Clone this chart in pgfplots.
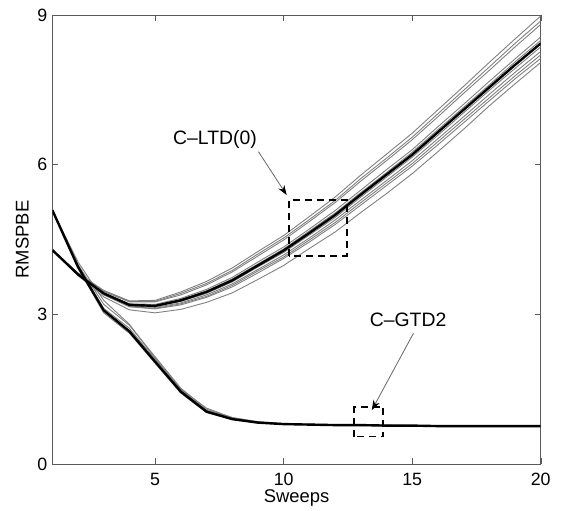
\documentclass[border=0pt]{standalone}
\usepackage{pgfplots}
\pgfplotsset{compat=1.18}
\usepackage{pgfplotstable}
\usepackage{fontspec}
\setmainfont{Liberation Sans}
\usetikzlibrary{arrows.meta}

% C-LTD(0): mean (m) and individual runs (a..j)
\pgfplotstableread{
x  m    a    b    c    d    e    f    g    h    i    j
1  4.29 4.29 4.29 4.29 4.29 4.29 4.29 4.29 4.29 4.29 4.29
2  3.80 3.83 3.82 3.82 3.81 3.80 3.80 3.79 3.79 3.79 3.78
3  3.42 3.48 3.47 3.46 3.43 3.43 3.41 3.40 3.40 3.39 3.35
4  3.19 3.27 3.26 3.25 3.21 3.20 3.18 3.17 3.16 3.15 3.09
5  3.17 3.28 3.26 3.25 3.20 3.18 3.16 3.14 3.12 3.11 3.03
6  3.28 3.45 3.42 3.39 3.32 3.30 3.26 3.23 3.21 3.19 3.10
7  3.45 3.66 3.62 3.59 3.50 3.47 3.42 3.39 3.36 3.34 3.24
8  3.68 3.93 3.88 3.85 3.74 3.71 3.65 3.61 3.58 3.55 3.43
9  3.98 4.26 4.21 4.17 4.05 4.01 3.95 3.90 3.87 3.83 3.70
10 4.28 4.58 4.53 4.49 4.35 4.31 4.24 4.19 4.15 4.12 3.98
11 4.63 4.96 4.90 4.86 4.71 4.67 4.59 4.53 4.49 4.45 4.32
12 4.99 5.35 5.28 5.24 5.08 5.03 4.94 4.89 4.84 4.80 4.65
13 5.40 5.79 5.72 5.67 5.49 5.44 5.35 5.29 5.24 5.19 5.04
14 5.80 6.21 6.13 6.08 5.90 5.84 5.75 5.68 5.63 5.58 5.42
15 6.20 6.63 6.55 6.50 6.30 6.25 6.15 6.08 6.02 5.97 5.82
16 6.65 7.10 7.02 6.96 6.76 6.70 6.59 6.52 6.46 6.40 6.26
17 7.10 7.57 7.49 7.43 7.21 7.15 7.04 6.96 6.90 6.84 6.71
18 7.55 8.05 7.96 7.89 7.67 7.60 7.49 7.41 7.34 7.28 7.18
19 8.00 8.52 8.43 8.36 8.12 8.06 7.93 7.85 7.78 7.72 7.62
20 8.43 8.98 8.88 8.81 8.56 8.49 8.36 8.27 8.20 8.13 8.05
}\ltd

% C-GTD2: mean (m) and individual runs (a..d)
\pgfplotstableread{
x  m    a    b    c    d
1  5.09 5.09 5.09 5.09 5.09
2  3.95 4.00 3.98 3.93 4.05
3  3.08 3.20 3.12 3.03 3.28
4  2.66 2.78 2.72 2.62 2.80
5  2.05 2.15 2.10 2.02 2.12
6  1.45 1.52 1.49 1.42 1.50
7  1.05 1.10 1.08 1.03 1.12
8  0.90 0.93 0.92 0.89 0.93
9  0.83 0.84 0.84 0.82 0.85
10 0.80 0.81 0.80 0.80 0.81
11 0.79 0.79 0.79 0.79 0.80
12 0.78 0.78 0.78 0.78 0.79
13 0.78 0.78 0.78 0.77 0.78
14 0.77 0.77 0.77 0.77 0.78
15 0.77 0.77 0.77 0.77 0.77
16 0.76 0.77 0.76 0.76 0.77
17 0.76 0.76 0.76 0.76 0.77
18 0.76 0.76 0.76 0.76 0.76
19 0.76 0.76 0.76 0.76 0.76
20 0.76 0.76 0.76 0.76 0.76
}\gtd

\begin{document}
\begin{tikzpicture}
\useasboundingbox (-26.15pt,-23pt) rectangle (254.85pt,232pt);
\begin{axis}[
  scale only axis,
  width=244.2pt, height=224.5pt,
  xmin=1, xmax=20, ymin=0, ymax=9,
  xtick={5,10,15,20}, ytick={0,3,6,9},
  tick align=inside, major tick length=3pt,
  axis line style={black!65}, tick style={black!65},
  /pgf/number format/assume math mode=true,
  tick label style={font=\fontsize{8.9}{10}\selectfont},
  xticklabel style={inner sep=0pt, yshift=-4.5pt},
  yticklabel style={inner sep=0pt, xshift=-2.3pt},
  xlabel={Sweeps}, ylabel={RMSPBE},
  label style={font=\fontsize{9.2}{11}\selectfont},
  xlabel style={at={(axis description cs:0.5,-0.076)}, anchor=center},
  ylabel style={at={(axis description cs:-0.0614,0.5)}, anchor=center},
  every axis plot/.append style={line join=round},
]
\foreach \c in {a,b,c,d,e,f,g,h,i,j}{
  \addplot[black!50, line width=0.45pt] table[x=x, y=\c] {\ltd};
}
\foreach \c in {a,b,c,d}{
  \addplot[black!50, line width=0.45pt] table[x=x, y=\c] {\gtd};
}
\addplot[black, line width=1.2pt] table[x=x, y=m] {\ltd};
\addplot[black, line width=1.2pt] table[x=x, y=m] {\gtd};

% annotations
\draw[black, line width=0.9pt, dash pattern=on 3.5pt off 2.5pt]
  (axis cs:10.21,4.17) rectangle (axis cs:12.46,5.30);
\draw[black, line width=0.9pt, dash pattern=on 3.5pt off 2.5pt]
  (axis cs:12.74,0.55) rectangle (axis cs:13.88,1.14);
\draw[black!60, line width=0.4pt, -{Stealth[length=5pt, width=3.5pt, color=black]}]
  (axis cs:9.02,6.26) -- (axis cs:10.12,5.39);
\draw[black!60, line width=0.4pt, -{Stealth[length=5pt, width=3.5pt, color=black]}]
  (axis cs:15.05,2.62) -- (axis cs:13.43,1.08);
\node[font=\fontsize{9.7}{11}\selectfont, inner sep=0pt] at (axis cs:7.33,6.51) {C–LTD(0)};
\node[font=\fontsize{9.7}{11}\selectfont, inner sep=0pt] at (axis cs:14.84,2.89) {C–GTD2};
\end{axis}
\end{tikzpicture}
\end{document}
